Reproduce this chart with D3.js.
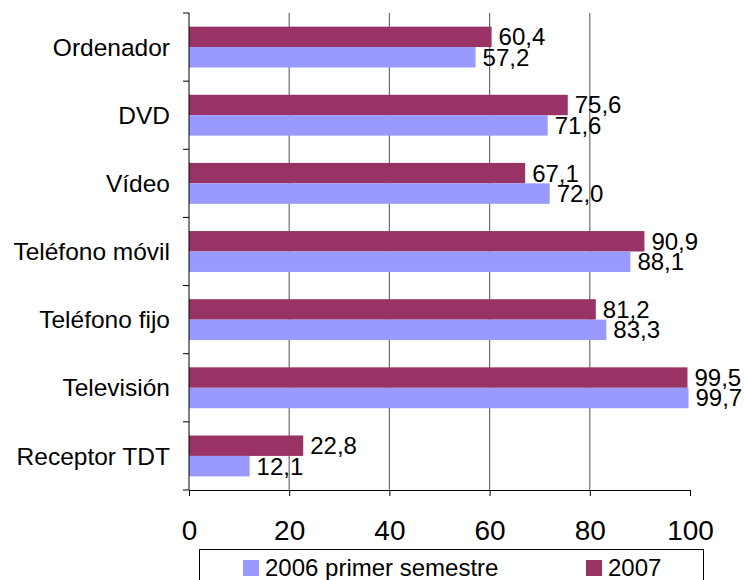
<!DOCTYPE html>
<html>
<head>
<meta charset="utf-8">
<script src="https://cdn.jsdelivr.net/npm/d3@7"></script>
<style>
body{margin:0;background:#fff;}
text{font-family:Arial,"Liberation Sans",sans-serif;fill:#000;}
</style>
</head>
<body>
<script>
var categories=["Ordenador","DVD","Vídeo","Teléfono móvil","Teléfono fijo","Televisión","Receptor TDT"];
var s2006=[57.2,71.6,72.0,88.1,83.3,99.7,12.1];
var s2007=[60.4,75.6,67.1,90.9,81.2,99.5,22.8];
var seriesNames=["2006 primer semestre","2007"];
var xTicks=[0,20,40,60,80,100];

var width=744;
var height=580;
var colors={"2006":"#9999ff","2007":"#993366"};

var svg=d3.select("body")
    .append("svg")
    .attr("width",width)
    .attr("height",height);

var plot={left:189,right:690,top:13,bottom:490};

var x=d3.scaleLinear()
    .domain([0,100])
    .range([plot.left,plot.right]);

var y=d3.scaleBand()
    .domain(categories)
    .range([plot.top,plot.bottom])
    .paddingInner(0.4)
    .paddingOuter(0.2);

// 2007 on top, 2006 below inside each group
var ySub=d3.scaleBand()
    .domain(["2007","2006"])
    .range([0,y.bandwidth()]);

var fmt=d3.formatLocale({decimal:",",thousands:".",grouping:[3],currency:["","€"]}).format(".1f");

// gridlines
svg.selectAll("line.grid")
    .data(xTicks.filter(function(d){return d>0&&d<100;}))
    .enter()
    .append("line")
    .attr("class","grid")
    .attr("x1",function(d){return x(d);})
    .attr("x2",function(d){return x(d);})
    .attr("y1",plot.top)
    .attr("y2",plot.bottom)
    .attr("stroke","#6e6e6e")
    .attr("stroke-width",1.2);

var rows=categories.map(function(c,i){
    return {cat:c,v2006:s2006[i],v2007:s2007[i]};
});

var bars=[];
rows.forEach(function(r){
    bars.push({cat:r.cat,key:"2007",v:r.v2007});
    bars.push({cat:r.cat,key:"2006",v:r.v2006});
});

svg.selectAll("rect.bar")
    .data(bars)
    .enter()
    .append("rect")
    .attr("class","bar")
    .attr("x",x(0))
    .attr("y",function(d){return y(d.cat)+ySub(d.key);})
    .attr("width",function(d){return x(d.v)-x(0);})
    .attr("height",ySub.bandwidth())
    .attr("fill",function(d){return colors[d.key];});

svg.selectAll("text.val")
    .data(bars)
    .enter()
    .append("text")
    .attr("class","val")
    .attr("x",function(d){return x(d.v)+7;})
    .attr("y",function(d){return y(d.cat)+ySub(d.key)+ySub.bandwidth()/2;})
    .attr("dy","0.35em")
    .attr("font-size","24px")
    .text(function(d){return fmt(d.v);});

// y axis
svg.append("line")
    .attr("x1",plot.left).attr("x2",plot.left)
    .attr("y1",plot.top).attr("y2",plot.bottom)
    .attr("stroke","#000");

var bounds=d3.range(categories.length+1).map(function(i){return plot.top+i*y.step();});
svg.selectAll("line.ytick")
    .data(bounds)
    .enter()
    .append("line")
    .attr("class","ytick")
    .attr("x1",plot.left-6).attr("x2",plot.left)
    .attr("y1",function(d){return d;})
    .attr("y2",function(d){return d;})
    .attr("stroke","#000");

svg.selectAll("text.cat")
    .data(categories)
    .enter()
    .append("text")
    .attr("class","cat")
    .attr("x",170)
    .attr("y",function(d){return y(d)+y.bandwidth()/2;})
    .attr("dy","0.35em")
    .attr("text-anchor","end")
    .attr("font-size","24.5px")
    .text(function(d){return d;});

// x axis
var xAxis=d3.axisBottom(x)
    .tickValues(xTicks)
    .tickSize(6)
    .tickSizeOuter(0)
    .tickPadding(24)
    .tickFormat(d3.format("d"));

var gx=svg.append("g")
    .attr("transform","translate(0,"+plot.bottom+")")
    .call(xAxis);
gx.select(".domain").attr("stroke","#000");
gx.selectAll(".tick line").attr("stroke","#000");
gx.selectAll(".tick text")
    .attr("font-size","28px")
    .attr("font-family","Arial,'Liberation Sans',sans-serif")
    .attr("fill","#000");

// legend
var lg=svg.append("g");
lg.append("rect")
    .attr("x",199.5).attr("y",549.5)
    .attr("width",504).attr("height",50)
    .attr("fill","#fff")
    .attr("stroke","#000");

var legendItems=[
    {name:seriesNames[0],key:"2006",x:243},
    {name:seriesNames[1],key:"2007",x:586}
];
lg.selectAll("rect.sw")
    .data(legendItems)
    .enter()
    .append("rect")
    .attr("class","sw")
    .attr("x",function(d){return d.x;})
    .attr("y",560)
    .attr("width",16)
    .attr("height",16)
    .attr("fill",function(d){return colors[d.key];});
lg.selectAll("text.lt")
    .data(legendItems)
    .enter()
    .append("text")
    .attr("class","lt")
    .attr("x",function(d){return d.x+22;})
    .attr("y",576)
    .attr("font-size","24px")
    .text(function(d){return d.name;});
</script>
</body>
</html>
